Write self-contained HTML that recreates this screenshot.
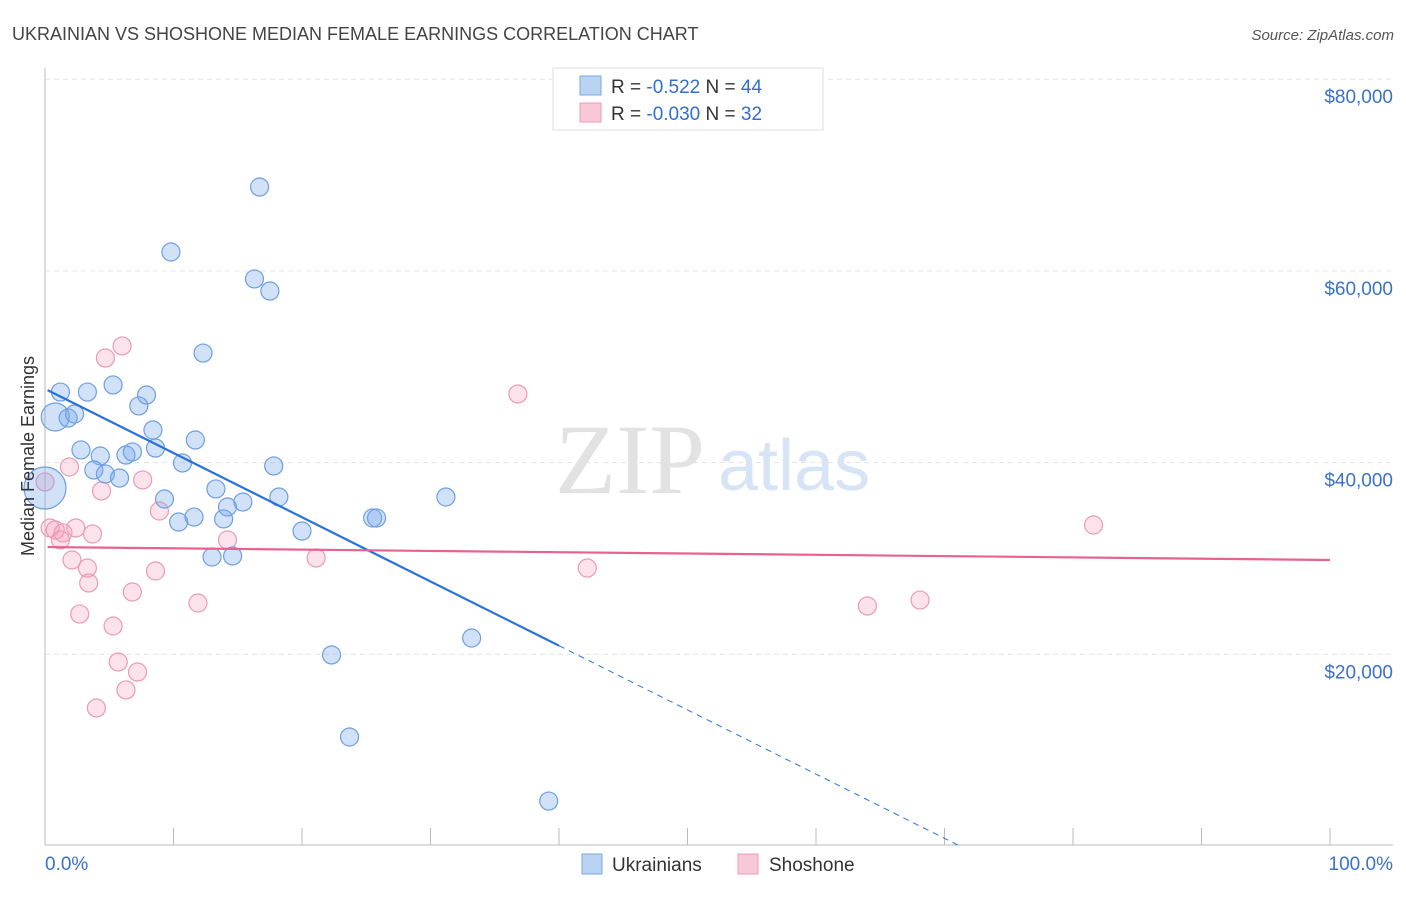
<!DOCTYPE html>
<html><head><meta charset="utf-8"><style>
body{margin:0;background:#fff;font-family:"Liberation Sans",sans-serif;}
</style></head><body>
<svg id="c" width="1406" height="892" xmlns="http://www.w3.org/2000/svg" font-family="Liberation Sans, sans-serif">
<text x="12" y="40" font-size="18" fill="#444">UKRAINIAN VS SHOSHONE MEDIAN FEMALE EARNINGS CORRELATION CHART</text>
<text x="1394" y="40" font-size="15" fill="#555" font-style="italic" text-anchor="end">Source: ZipAtlas.com</text>
<text x="555" y="493" font-size="100" fill="#e2e2e2" font-family="Liberation Serif, serif">ZIP</text>
<text x="718" y="490" font-size="72" fill="#d6e4f5">atlas</text>
<g id="grid"></g>
<g id="axes"></g>
<g id="pts"></g>
<g id="trends"></g>
<text transform="translate(34,456) rotate(-90)" font-size="18" fill="#333" text-anchor="middle">Median Female Earnings</text>
<g>
<rect x="553" y="68" width="270" height="62" fill="#fff" stroke="#ddd"/>
<rect x="580" y="76" width="21" height="19" fill="#b9d3f3" stroke="#7aa9e6"/>
<text x="611" y="93" font-size="19" fill="#333">R = <tspan fill="#2f6fd0"> -0.522</tspan>   N = <tspan fill="#2f6fd0">44</tspan></text>
<rect x="580" y="103" width="21" height="19" fill="#f9c8d7" stroke="#ec9ab5"/>
<text x="611" y="120" font-size="19" fill="#333">R = <tspan fill="#2f6fd0">-0.030</tspan>   N = <tspan fill="#2f6fd0"> 32</tspan></text>
</g>
<g>
<rect x="582" y="854" width="20" height="20" fill="#b9d3f3" stroke="#7aa9e6"/>
<text x="612" y="871" font-size="19" fill="#333">Ukrainians</text>
<rect x="738" y="854" width="20" height="20" fill="#f9c8d7" stroke="#ec9ab5"/>
<text x="769" y="871" font-size="19" fill="#333">Shoshone</text>
</g>
</svg>
<script>
const yTicks=[20000,40000,60000,80000];
const yTickLabels=["$20,000","$40,000","$60,000","$80,000"];
const xTicks=[0,10,20,30,40,50,60,70,80,90,100];
const blueX=[16.7,9.8,16.3,17.5,12.3,1.2,3.3,5.3,7.9,7.3,0.8,1.8,2.3,8.4,11.7,2.8,8.6,6.3,6.8,4.3,10.7,17.8,3.8,4.7,5.8,0,13.3,9.3,18.2,31.2,15.4,14.2,11.6,10.4,13.9,25.5,25.8,20.0,13.0,14.6,33.2,22.3,23.7,39.2];
const blueY=[68750,61970,59160,57900,51430,47360,47360,48100,47050,45910,44760,44650,45070,43400,42360,41320,41520,40790,41110,40690,39960,39650,39230,38810,38390,37350,37250,36200,36410,36410,35890,35370,34320,33800,34120,34220,34220,32860,30150,30260,21700,19930,11370,4690];
const blueR=[9,9,9,9,9,9,9,9,9,9,14,9,9,9,9,9,9,9,9,9,9,9,9,9,9,21,9,9,9,9,9,9,9,9,9,9,9,9,9,9,9,9,9,9];
const pinkX=[6.0,4.7,36.8,1.9,7.6,4.4,8.9,14.2,0.4,0.8,1.4,1.2,2.4,3.7,2.1,21.1,3.3,8.6,3.4,42.2,6.8,81.6,11.9,2.7,64.0,68.1,5.3,5.7,7.2,6.3,4.0,0];
const pinkY=[52170,50910,47160,39540,38190,37040,34950,31930,33180,32970,32660,31930,33180,32550,29840,30050,29000,28690,27440,29000,26500,33490,25350,24200,25040,25660,22950,19200,18150,16280,14400,37980];
const blueTrend=[47700,-670];   // intercept, slope per %
const pinkTrend=[31190,-13.5];
const blueSolidEnd=40;
const NS="http://www.w3.org/2000/svg";
const X=v=>45+v*12.85, Y=v=>846-v*191.7/20000;
function mk(t,a,p){const e=document.createElementNS(NS,t);for(const k in a)e.setAttribute(k,a[k]);p.appendChild(e);return e;}
const grid=document.getElementById('grid'),axes=document.getElementById('axes'),pts=document.getElementById('pts'),tr=document.getElementById('trends');
yTicks.forEach((v,i)=>{
 const l=mk('line',{x1:45,x2:1393,y1:Y(v),y2:Y(v),stroke:'#e3e3e3','stroke-dasharray':'5,4'},grid);
 
 
 const t=mk('text',{x:1393,y:Y(v)+24,'font-size':19,fill:'#3b72c8','text-anchor':'end'},axes);t.textContent=yTickLabels[i];
 
 
});
mk('line',{x1:45,x2:45,y1:68,y2:845,stroke:'#bbb'},axes);
mk('line',{x1:45,x2:1393,y1:845,y2:845,stroke:'#bbb'},axes);
xTicks.forEach(v=>{const l=mk('line',{x1:X(v),x2:X(v),y1:828,y2:845,stroke:'#bbb'},axes);
 
 });
let t=mk('text',{x:45,y:870,'font-size':19,fill:'#3b72c8'},axes);t.textContent='0.0%';

t=mk('text',{x:1393,y:870,'font-size':19,fill:'#3b72c8','text-anchor':'end'},axes);t.textContent='100.0%';

pinkX.forEach((x,i)=>{const c=mk('circle',{cx:X(x),cy:Y(pinkY[i]),r:9,fill:'rgba(244,160,188,0.3)',stroke:'#eb9ab6','stroke-width':1.2},pts);
 
 });
blueX.forEach((x,i)=>{const c=mk('circle',{cx:X(x),cy:Y(blueY[i]),r:blueR[i],fill:'rgba(120,170,235,0.35)',stroke:'#6d9fe0','stroke-width':1.2},pts);
 
 });
const bf=x=>blueTrend[0]+blueTrend[1]*x, pf=x=>pinkTrend[0]+pinkTrend[1]*x;
let l=mk('line',{x1:X(0.2),y1:Y(bf(0.2)),x2:X(blueSolidEnd),y2:Y(bf(blueSolidEnd)),stroke:'#2a72d8','stroke-width':2.2},tr);


const xz=-blueTrend[0]/blueTrend[1];
l=mk('line',{x1:X(blueSolidEnd),y1:Y(bf(blueSolidEnd)),x2:X(xz),y2:Y(0),stroke:'#2a72d8','stroke-width':1,'stroke-dasharray':'6,5'},tr);


l=mk('line',{x1:X(0.2),y1:Y(pf(0.2)),x2:X(100),y2:Y(pf(100)),stroke:'#e8628e','stroke-width':2.2},tr);


</script>
</body></html>
